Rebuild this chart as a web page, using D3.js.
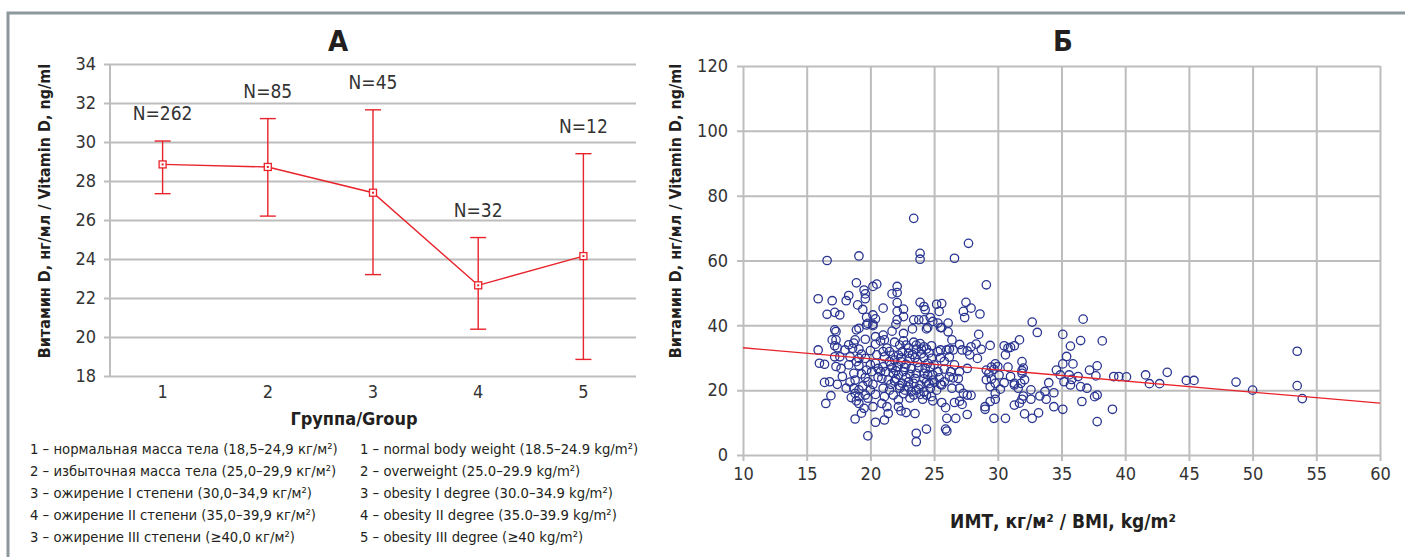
<!DOCTYPE html>
<html>
<head>
<meta charset="utf-8">
<script src="https://cdn.jsdelivr.net/npm/d3@7"></script>
<style>
    body { margin: 0; background: #fff; }
    svg { display: block; }
</style>
</head>
<body>
<svg></svg>
<script>
var width = 1405, height = 557;
var FONT = "'Liberation Sans Narrow', 'DejaVu Sans Condensed', 'Arial Narrow', sans-serif";

// ---- panel A: mean vitamin D by BMI group ----
var groups = ["1", "2", "3", "4", "5"];
var groupMean = [28.85, 28.72, 27.4, 22.65, 24.15];
var groupLow = [27.35, 26.2, 23.2, 20.4, 18.85];
var groupHigh = [30.05, 31.2, 31.65, 25.1, 29.4];
var groupN = [262, 85, 45, 32, 12];
var yTicksA = [18, 20, 22, 24, 26, 28, 30, 32, 34];

var legendRu = [
    "1 – нормальная масса тела (18,5–24,9 кг/м²)",
    "2 – избыточная масса тела (25,0–29,9 кг/м²)",
    "3 – ожирение I степени (30,0–34,9 кг/м²)",
    "4 – ожирение II степени (35,0–39,9 кг/м²)",
    "3 – ожирение III степени (≥40,0 кг/м²)"
];
var legendEn = [
    "1 – normal body weight (18.5–24.9 kg/m²)",
    "2 – overweight (25.0–29.9 kg/m²)",
    "3 – obesity I degree (30.0–34.9 kg/m²)",
    "4 – obesity II degree (35.0–39.9 kg/m²)",
    "5 – obesity III degree (≥40 kg/m²)"
];

// ---- panel B: BMI vs vitamin D, one pair per patient ----
var scatterPoints = [
    // vitamin D above 40
    [16.6,60.0],[19.1,61.4],[18.9,53.1],[20.5,52.7],[20.2,52.0],[19.5,50.9],[19.6,49.7],[15.9,48.2],
    [17.0,47.6],[18.3,49.2],[18.1,47.6],[19.0,46.3],[19.6,48.2],[19.4,44.9],[21.0,45.3],[16.6,43.4],
    [17.2,44.0],[17.6,43.2],[19.7,42.5],[20.2,43.2],[20.4,42.0],[19.8,40.6],[20.2,40.3],
    [23.4,73.0],[27.7,65.3],[23.9,62.2],[23.9,60.4],[26.6,60.7],[22.1,52.0],[22.1,50.1],[21.7,49.7],
    [22.1,47.0],[22.1,44.3],[22.6,45.0],[22.6,42.7],[22.1,41.7],[22.0,40.3],[23.9,47.1],[24.2,45.8],
    [24.3,44.8],[25.2,46.5],[25.6,46.7],[25.4,44.3],[27.5,47.1],[27.3,44.3],[27.4,42.4],[23.4,41.7],
    [23.8,41.7],[24.2,41.7],[24.7,42.4],[24.9,41.2],[25.3,40.7],[26.1,40.7],[24.5,39.3],[25.6,39.3],
    [28.6,43.5],[29.1,52.5],[32.7,41.0],[36.7,41.9],[27.9,45.3],
    // BMI below 21
    [17.2,38.6],[17.3,38.1],[17.0,35.5],[17.3,35.5],[17.2,33.7],[17.4,33.1],[18.3,34.0],[18.7,34.5],
    [18.8,35.5],[18.9,38.6],[19.1,39.1],[19.7,40.1],[20.2,39.9],[19.6,35.7],[20.4,36.5],[20.4,34.2],
    [20.8,35.2],[18.0,32.4],[18.6,32.9],[19.1,32.7],[15.9,32.4],[17.2,30.3],[17.6,30.3],[18.4,30.3],
    [19.1,29.8],[19.6,29.8],[16.0,28.3],[16.4,28.0],[17.3,27.3],[17.7,26.7],[18.3,27.8],[19.1,27.6],
    [20.0,27.8],[20.4,28.3],[20.6,26.7],[19.7,26.2],[20.1,25.7],[20.8,25.7],[17.8,24.2],[18.7,25.2],
    [18.8,23.1],[19.6,23.9],[19.8,22.6],[20.2,21.8],[16.4,22.4],[16.8,22.6],[17.4,21.8],[18.1,20.6],
    [18.7,20.6],[19.1,20.1],[18.8,19.0],[19.1,18.0],[19.6,18.5],[20.4,18.7],[16.9,18.3],[18.5,17.7],
    [18.9,16.7],[19.1,15.9],[19.8,17.5],[20.2,14.9],[16.5,15.9],[19.5,14.4],[19.3,12.9],[18.8,11.1],
    [20.4,10.1],[19.8,5.9],
    [20.5,30.9],[20.0,32.2],[19.3,31.1],[18.9,28.8],[19.3,25.0],[20.6,24.0],[18.4,22.5],[20.0,20.0],
    [19.4,21.3],
    // BMI 21 to 27.8
    [21.7,38.2],[22.6,37.5],[23.3,38.9],[24.4,38.9],[25.5,39.3],[26.1,38.0],[21.0,37.0],[21.1,35.5],
    [21.9,34.8],[22.3,33.9],[22.6,35.2],[22.8,33.9],[23.4,34.8],[23.6,33.9],[23.9,34.4],[24.2,33.4],
    [24.4,32.7],[24.8,33.7],[24.0,32.7],[23.6,32.7],[26.4,35.5],[26.2,32.7],[27.0,34.1],[27.2,32.4],
    [26.0,32.4],[26.5,32.4],[25.5,32.4],[25.3,31.9],[25.5,30.0],[27.6,32.1],[21.0,31.9],[21.1,30.3],
    [21.5,31.9],[21.8,30.8],[22.2,30.8],[22.5,31.9],[23.0,31.4],[21.5,28.8],[21.9,29.3],[22.4,28.8],
    [23.1,29.8],[23.5,30.0],[24.2,30.0],[24.8,29.8],[21.7,26.9],[22.1,27.2],[22.8,28.0],[23.2,26.7],
    [23.8,26.9],[24.3,26.7],[24.7,27.2],[21.0,27.2],[21.2,25.7],[21.8,25.2],[22.2,24.7],[22.6,25.7],
    [23.1,24.9],[23.6,25.2],[24.2,25.2],[24.5,24.7],[24.9,24.7],[25.3,25.7],[26.3,25.7],[27.0,25.7],
    [27.6,26.7],[20.9,23.6],[21.4,23.1],[21.9,22.8],[22.5,22.1],[23.0,22.6],[23.4,22.1],[23.9,21.6],
    [24.4,22.4],[24.9,23.1],[25.5,21.8],[25.8,22.6],[26.5,23.8],[26.9,23.6],[21.0,20.6],[21.5,20.0],
    [22.3,20.6],[22.7,20.0],[23.2,19.5],[23.6,20.0],[24.2,19.5],[24.7,20.6],[25.2,20.0],[25.6,21.6],
    [26.4,20.6],[27.0,20.6],[27.3,19.0],[27.6,18.5],[21.1,18.0],[21.8,18.5],[22.2,17.0],[23.4,18.5],
    [23.9,18.7],[24.4,18.5],[24.8,18.0],[24.9,16.7],[25.6,16.2],[26.6,16.2],[27.0,16.6],[27.2,15.6],
    [20.9,15.9],[21.3,14.9],[21.4,12.8],[22.2,14.9],[22.4,13.6],[22.8,13.1],[23.5,12.8],[21.1,10.8],
    [25.9,14.6],[26.0,11.3],[26.7,11.3],[27.6,12.5],[23.6,6.7],[24.4,8.0],[25.9,8.0],[26.0,7.4],
    [23.6,4.1],
    [21.3,33.0],[21.6,27.8],[22.0,26.0],[22.4,30.0],[22.7,27.0],[23.0,33.0],[23.3,31.0],[23.7,28.5],
    [24.0,31.2],[24.5,28.3],[24.6,31.5],[22.0,23.5],[22.8,23.9],[23.5,23.6],[24.2,23.5],[24.6,22.0],
    [21.6,21.8],[22.3,21.4],[23.0,21.0],[23.8,20.4],[22.6,18.9],[23.1,17.6],[24.1,17.2],[25.0,27.8],
    [25.8,28.9],[26.2,30.2],[26.6,27.8],[25.8,26.5],[26.2,24.1],[25.0,22.4],[25.4,23.8],
    // BMI 27.8 to 40
    [28.5,37.2],[27.9,33.4],[28.3,34.2],[28.7,32.6],[27.8,30.9],[28.4,29.8],[29.4,33.8],[30.5,33.7],
    [30.8,33.0],[31.0,33.2],[31.3,33.7],[31.7,35.5],[33.1,37.8],[30.6,30.9],[31.9,28.8],[31.9,26.0],
    [30.8,27.1],[30.0,27.3],[29.8,28.1],[29.5,27.1],[29.1,26.2],[29.3,25.2],[29.7,26.4],[30.1,24.7],
    [29.1,23.2],[29.5,23.4],[29.8,22.1],[29.4,21.1],[29.8,19.0],[29.8,17.2],[29.4,16.5],[29.7,11.3],
    [29.0,14.9],[29.0,14.1],[27.9,18.4],[30.2,20.3],[30.5,22.3],[30.6,11.3],[31.0,24.2],[31.3,22.1],
    [31.3,21.6],[31.6,20.6],[31.8,22.1],[32.1,23.2],[31.9,25.2],[32.0,26.8],[32.6,20.1],[31.9,17.2],
    [31.7,16.0],[31.3,15.4],[32.1,12.7],[32.6,17.2],[32.7,11.3],[33.2,13.0],[33.3,18.2],[33.7,19.6],
    [33.8,17.2],[34.0,22.3],[34.4,19.2],[34.4,14.9],[35.1,14.1],[34.6,26.2],[34.9,24.7],[35.2,22.6],
    [35.6,24.7],[35.7,21.6],[36.5,21.1],[37.0,20.6],[35.1,37.2],[35.7,33.6],[35.4,30.4],[35.1,28.1],
    [35.9,28.1],[36.3,24.2],[38.2,35.2],[36.5,35.3],[37.2,26.2],[37.8,27.5],[37.7,24.4],[36.6,16.5],
    [37.6,18.0],[37.8,18.5],[37.8,10.3],[39.0,14.1],[39.1,24.2],[39.5,24.2],[35.8,23.3],[32.0,18.2],
    // BMI 40 and above
    [40.1,24.1],[41.6,24.7],[41.9,22.0],[42.7,22.0],[43.3,25.5],[44.8,23.0],[45.4,23.0],[48.7,22.5],
    [50.0,20.0],[53.5,32.0],[53.5,21.4],[53.9,17.4]
];
var trendIntercept = 36.5, trendSlope = -0.342;
var xTicksB = [10, 15, 20, 25, 30, 35, 40, 45, 50, 55, 60];
var yTicksB = [0, 20, 40, 60, 80, 100, 120];

var red = "#e8232b", navy = "#2a3591", grid = "#bdbdbd", ink = "#231f20";

var svg = d3.select("svg")
    .attr("width", width)
    .attr("height", height)
    .style("font-family", FONT);

// outer frame of the figure
svg.append("rect")
    .attr("x", 8).attr("y", 13)
    .attr("width", width).attr("height", height)
    .attr("fill", "none")
    .attr("stroke", "#8d989e")
    .attr("stroke-width", 3);

/* ================= panel A ================= */
var xA = d3.scaleBand().domain(groups).range([110, 636]);
var yA = d3.scaleLinear().domain([18, 34]).range([376, 64]);
var cx = function (g) { return xA(g) + xA.bandwidth() / 2; };

var gA = svg.append("g");

var yAxisA = gA.append("g")
    .attr("transform", "translate(110,0)")
    .call(d3.axisLeft(yA).tickValues(yTicksA).tickSize(-526).tickPadding(14));
yAxisA.select(".domain").remove();
yAxisA.selectAll("line").attr("x1", -6).attr("stroke", grid).attr("stroke-width", 2);
yAxisA.selectAll("text").attr("fill", "#333").style("font-size", "18px").style("font-family", FONT);

gA.append("line")
    .attr("x1", 110).attr("x2", 110)
    .attr("y1", yA(34)).attr("y2", yA(18))
    .attr("stroke", grid).attr("stroke-width", 2);

var xAxisA = gA.append("g")
    .attr("transform", "translate(0,376)")
    .call(d3.axisBottom(xA).tickSize(0).tickPadding(9));
xAxisA.select(".domain").remove();
xAxisA.selectAll("text").attr("fill", "#333").style("font-size", "18px").style("font-family", FONT);

var rows = groups.map(function (g, i) {
    return {g: g, mean: groupMean[i], lo: groupLow[i], hi: groupHigh[i], n: groupN[i]};
});

// error bars
var eb = gA.selectAll(".eb").data(rows).enter().append("g")
    .attr("stroke", red).attr("stroke-width", 1.4);
eb.append("line")
    .attr("x1", function (d) { return cx(d.g); }).attr("x2", function (d) { return cx(d.g); })
    .attr("y1", function (d) { return yA(d.lo); }).attr("y2", function (d) { return yA(d.hi); });
eb.append("line")
    .attr("x1", function (d) { return cx(d.g) - 8; }).attr("x2", function (d) { return cx(d.g) + 8; })
    .attr("y1", function (d) { return yA(d.lo); }).attr("y2", function (d) { return yA(d.lo); });
eb.append("line")
    .attr("x1", function (d) { return cx(d.g) - 8; }).attr("x2", function (d) { return cx(d.g) + 8; })
    .attr("y1", function (d) { return yA(d.hi); }).attr("y2", function (d) { return yA(d.hi); });

gA.append("path")
    .datum(rows)
    .attr("fill", "none")
    .attr("stroke", red)
    .attr("stroke-width", 1.4)
    .attr("d", d3.line().x(function (d) { return cx(d.g); }).y(function (d) { return yA(d.mean); }));

var mk = gA.selectAll(".mk").data(rows).enter().append("g")
    .attr("transform", function (d) { return "translate(" + cx(d.g) + "," + yA(d.mean) + ")"; });
mk.append("rect").attr("x", -3.5).attr("y", -3.5).attr("width", 7).attr("height", 7)
    .attr("fill", "#fff").attr("stroke", red).attr("stroke-width", 1.3);
mk.append("rect").attr("x", -1).attr("y", -1).attr("width", 2).attr("height", 2).attr("fill", red);

gA.selectAll(".nlab").data(rows).enter().append("text")
    .attr("x", function (d) { return cx(d.g); })
    .attr("y", function (d) { return yA(d.hi) - 21; })
    .attr("text-anchor", "middle")
    .attr("fill", "#333")
    .style("font-size", "19px")
    .text(function (d) { return "N=" + d.n; });

gA.append("text")
    .attr("x", 338).attr("y", 51)
    .attr("text-anchor", "middle")
    .attr("fill", ink)
    .style("font-size", "29px").style("font-weight", "bold")
    .text("А");

gA.append("text")
    .attr("transform", "translate(50,211) rotate(-90)")
    .attr("text-anchor", "middle")
    .attr("fill", ink)
    .style("font-size", "16px").style("font-weight", "bold")
    .text("Витамин D, нг/мл / Vitamin D, ng/ml");

gA.append("text")
    .attr("x", 354).attr("y", 425)
    .attr("text-anchor", "middle")
    .attr("fill", ink)
    .style("font-size", "18px").style("font-weight", "bold")
    .text("Группа/Group");

var leg = gA.append("g").style("font-size", "14.7px").attr("fill", ink);
leg.selectAll(".ru").data(legendRu).enter().append("text")
    .attr("x", 30).attr("y", function (d, i) { return 454 + i * 22; })
    .text(function (d) { return d; });
leg.selectAll(".en").data(legendEn).enter().append("text")
    .attr("x", 360).attr("y", function (d, i) { return 454 + i * 22; })
    .text(function (d) { return d; });

/* ================= panel B ================= */
var xB = d3.scaleLinear().domain([10, 60]).range([743, 1380]);
var yB = d3.scaleLinear().domain([0, 120]).range([455, 66]);

var gB = svg.append("g");

var yAxisB = gB.append("g")
    .attr("transform", "translate(743,0)")
    .call(d3.axisLeft(yB).tickValues(yTicksB).tickSize(-637).tickPadding(15));
yAxisB.select(".domain").remove();
yAxisB.selectAll("line").attr("x1", -6).attr("stroke", grid).attr("stroke-width", 2);
yAxisB.selectAll("text").attr("fill", "#333").style("font-size", "18px").style("font-family", FONT);

var xAxisB = gB.append("g")
    .attr("transform", "translate(0,455)")
    .call(d3.axisBottom(xB).tickValues(xTicksB).tickSize(-389).tickPadding(12));
xAxisB.select(".domain").remove();
xAxisB.selectAll("line").attr("y1", 6).attr("stroke", grid).attr("stroke-width", 2);
xAxisB.selectAll("text").attr("fill", "#333").style("font-size", "18px").style("font-family", FONT);

gB.selectAll(".pt").data(scatterPoints).enter().append("circle")
    .attr("cx", function (d) { return xB(d[0]); })
    .attr("cy", function (d) { return yB(d[1]); })
    .attr("r", 4.2)
    .attr("fill", "none")
    .attr("stroke", navy)
    .attr("stroke-width", 1.3);

gB.append("line")
    .attr("x1", xB(10)).attr("y1", yB(trendIntercept + trendSlope * 10))
    .attr("x2", xB(60)).attr("y2", yB(trendIntercept + trendSlope * 60))
    .attr("stroke", red)
    .attr("stroke-width", 1.3);

gB.append("text")
    .attr("x", 1063).attr("y", 51)
    .attr("text-anchor", "middle")
    .attr("fill", ink)
    .style("font-size", "29px").style("font-weight", "bold")
    .text("Б");

gB.append("text")
    .attr("transform", "translate(681,211) rotate(-90)")
    .attr("text-anchor", "middle")
    .attr("fill", ink)
    .style("font-size", "16px").style("font-weight", "bold")
    .text("Витамин D, нг/мл / Vitamin D, ng/ml");

gB.append("text")
    .attr("x", 1063).attr("y", 528)
    .attr("text-anchor", "middle")
    .attr("fill", ink)
    .style("font-size", "19px").style("font-weight", "bold")
    .text("ИМТ, кг/м² / BMI, kg/m²");
</script>
</body>
</html>
